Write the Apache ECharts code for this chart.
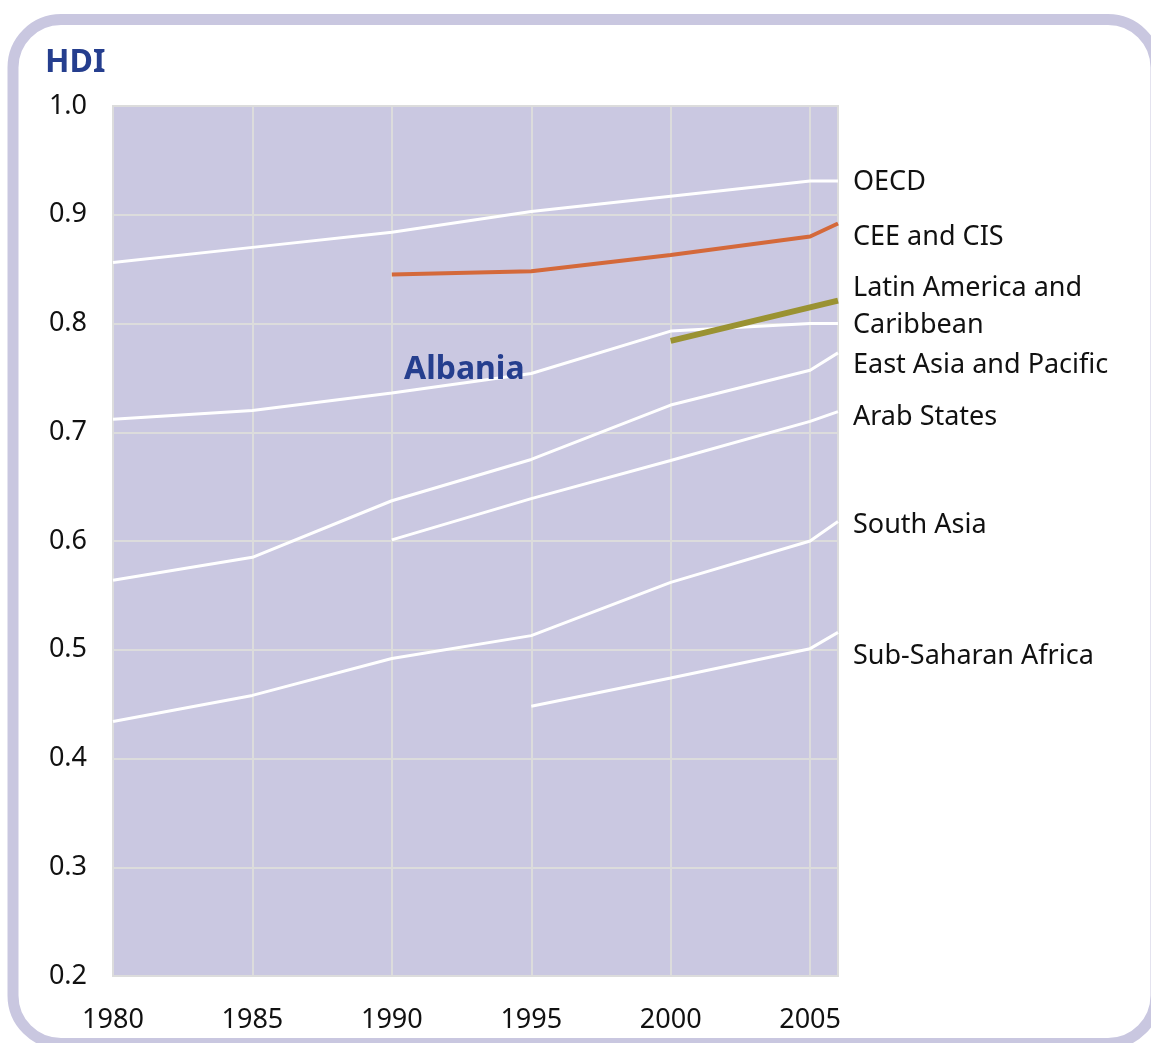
<!DOCTYPE html>
<html>
<head>
<meta charset="utf-8">
<script src="https://cdn.jsdelivr.net/npm/echarts@6/dist/echarts.min.js"></script>
<style>
  html, body { margin: 0; padding: 0; background: #fff; }
  #chart { width: 1151px; height: 1043px; }
</style>
</head>
<body>
<div id="chart"></div>
<script>
// years on the x axis (2006 is the last point of each line)
const years = [1980, 1985, 1990, 1995, 2000, 2005, 2006]

// HDI values, null = no data
const oecd = [0.856, 0.870, 0.884, 0.903, 0.917, 0.931, 0.931]
const ceeCis = [null, null, 0.845, 0.848, 0.863, 0.880, 0.892]
const albania = [null, null, null, null, 0.784, null, 0.821]
const latinAmerica = [0.712, 0.720, 0.736, 0.754, 0.793, 0.800, 0.800]
const eastAsia = [0.564, 0.585, 0.637, 0.675, 0.725, 0.757, 0.773]
const arabStates = [null, null, 0.601, 0.639, 0.674, 0.710, 0.719]
const southAsia = [0.434, 0.458, 0.492, 0.513, 0.562, 0.600, 0.618]
const subSaharan = [null, null, null, 0.448, 0.474, 0.501, 0.516]

const FONT = 'Noto Sans'

function pairs (vals) {
  const out = []
  vals.forEach((v, i) => { if (v !== null) out.push([years[i], v]) })
  return out
}

// white region line with a label at its end
function regionLine (name, vals, labelText, dy) {
  return {
    name: name,
    type: 'line',
    data: pairs(vals),
    symbol: 'none',
    silent: true,
    z: 3,
    lineStyle: { color: '#ffffff', width: 3 },
    endLabel: {
      show: true,
      formatter: labelText,
      distance: 15,
      offset: [0, dy],
      color: '#111',
      fontFamily: FONT,
      fontSize: 27,
      lineHeight: 37,
      align: 'left'
    }
  }
}

const myChart = echarts.init(document.getElementById('chart'))

const option = {
  animation: false,
  backgroundColor: '#ffffff',
  grid: {
    left: 113,
    right: 313,
    top: 106,
    bottom: 67,
    show: true,
    backgroundColor: '#cac8e1',
    borderColor: '#dcdcdc',
    borderWidth: 2
  },
  xAxis: {
    type: 'value',
    min: 1980,
    max: 2006,
    interval: 5,
    axisLine: { show: false },
    axisTick: { show: false },
    axisLabel: {
      margin: 31,
      showMaxLabel: false,
      color: '#111',
      fontFamily: FONT,
      fontSize: 27,
      formatter: v => String(v)
    },
    splitLine: { show: true, lineStyle: { color: '#dcdcdc', width: 2 } }
  },
  yAxis: {
    type: 'value',
    min: 0.2,
    max: 1.0,
    interval: 0.1,
    axisLine: { show: false },
    axisTick: { show: false },
    axisLabel: {
      margin: 26,
      color: '#111',
      fontFamily: FONT,
      fontSize: 27,
      formatter: v => v.toFixed(1)
    },
    splitLine: { show: true, lineStyle: { color: '#dcdcdc', width: 2 } }
  },
  graphic: [
    { // rounded frame, right and bottom edges run past the page
      type: 'rect',
      z: 100,
      silent: true,
      shape: { x: 13, y: 19.5, width: 1143, height: 1024, r: 48 },
      style: { fill: 'none', stroke: '#c9c7e0', lineWidth: 11 }
    },
    {
      type: 'text',
      left: 45,
      top: 47,
      style: {
        text: 'HDI',
        fill: '#253e8e',
        font: 'bold 32px "Noto Sans"'
      }
    },
    {
      type: 'text',
      z: 10,
      left: 404,
      top: 354,
      style: {
        text: 'Albania',
        fill: '#253e8e',
        font: 'bold 32px "Noto Sans"'
      }
    }
  ],
  series: [
    regionLine('OECD', oecd, 'OECD', 1),
    regionLine('Latin America and Caribbean', latinAmerica, 'Latin America and\nCaribbean', -17),
    regionLine('East Asia and Pacific', eastAsia, 'East Asia and Pacific', 12),
    regionLine('Arab States', arabStates, 'Arab States', 6),
    regionLine('South Asia', southAsia, 'South Asia', 4),
    regionLine('Sub-Saharan Africa', subSaharan, 'Sub-Saharan Africa', 24),
    {
      name: 'CEE and CIS',
      type: 'line',
      data: pairs(ceeCis),
      symbol: 'none',
      silent: true,
      z: 4,
      lineStyle: { color: '#d4693a', width: 4 },
      endLabel: {
        show: true,
        formatter: 'CEE and CIS',
        distance: 15,
        offset: [0, 14],
        color: '#111',
        fontFamily: FONT,
        fontSize: 27
      }
    },
    {
      name: 'Albania',
      type: 'line',
      data: pairs(albania),
      connectNulls: true,
      symbol: 'none',
      silent: true,
      z: 5,
      lineStyle: { color: '#9a9232', width: 6 }
    }
  ]
}

myChart.setOption(option)
</script>
</body>
</html>
